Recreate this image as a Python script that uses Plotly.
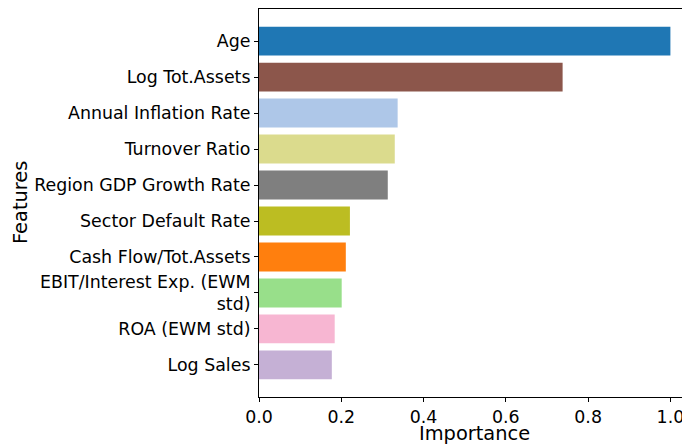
import plotly.graph_objects as go

features = ["Age", "Log Tot.Assets", "Annual Inflation Rate", "Turnover Ratio",
            "Region GDP Growth Rate", "Sector Default Rate", "Cash Flow/Tot.Assets",
            "EBIT/Interest Exp. (EWM<br>std)", "ROA (EWM std)", "Log Sales"]
importance = [1.0, 0.738, 0.337, 0.330, 0.313, 0.221, 0.211, 0.201, 0.184, 0.177]
colors = ["#1f77b4", "#8c564b", "#aec7e8", "#dbdb8d", "#7f7f7f",
          "#bcbd22", "#ff7f0e", "#98df8a", "#f7b6d2", "#c5b0d5"]
x_ticks = [0.0, 0.2, 0.4, 0.6, 0.8, 1.0]

n = len(features)
fig = go.Figure(go.Bar(
    x=importance, y=features, orientation="h",
    marker=dict(color=colors, line=dict(width=0)),
    width=0.8,
))

font_family = "DejaVu Sans"
tick_size = 17.4
title_size = 19.4
fig.update_layout(
    width=682, height=439,
    margin=dict(l=251, r=0, t=1, b=50),
    plot_bgcolor="white", paper_bgcolor="white",
    font=dict(family=font_family, color="black", size=tick_size),
    showlegend=False,
    annotations=[
        dict(text="Importance", xref="paper", yref="paper", x=0.5, y=0,
             xanchor="center", yanchor="middle", yshift=-36, showarrow=False,
             font=dict(size=title_size)),
        dict(text="Features", xref="paper", yref="paper", x=0, y=0.5,
             xanchor="center", yanchor="middle", xshift=-239, textangle=-90,
             showarrow=False, font=dict(size=title_size)),
    ],
)
fig.update_xaxes(
    range=[0, 431 / 411.4],
    tickvals=x_ticks, tickformat=".1f",
    showgrid=False, zeroline=False,
    showline=True, linecolor="black", linewidth=1.1, mirror=True,
    ticks="outside", ticklen=4, tickwidth=1.1, tickcolor="black",
    tickfont=dict(size=tick_size),
    automargin=False,
)
fig.update_yaxes(
    type="category", categoryorder="array", categoryarray=features,
    range=[n - 1 + 0.89, -0.89],
    showgrid=False, zeroline=False,
    showline=True, linecolor="black", linewidth=1.1, mirror=False,
    ticks="outside", ticklen=4, tickwidth=1.1, tickcolor="black",
    tickfont=dict(size=tick_size),
    automargin=False,
)
fig.write_html("out.html")
